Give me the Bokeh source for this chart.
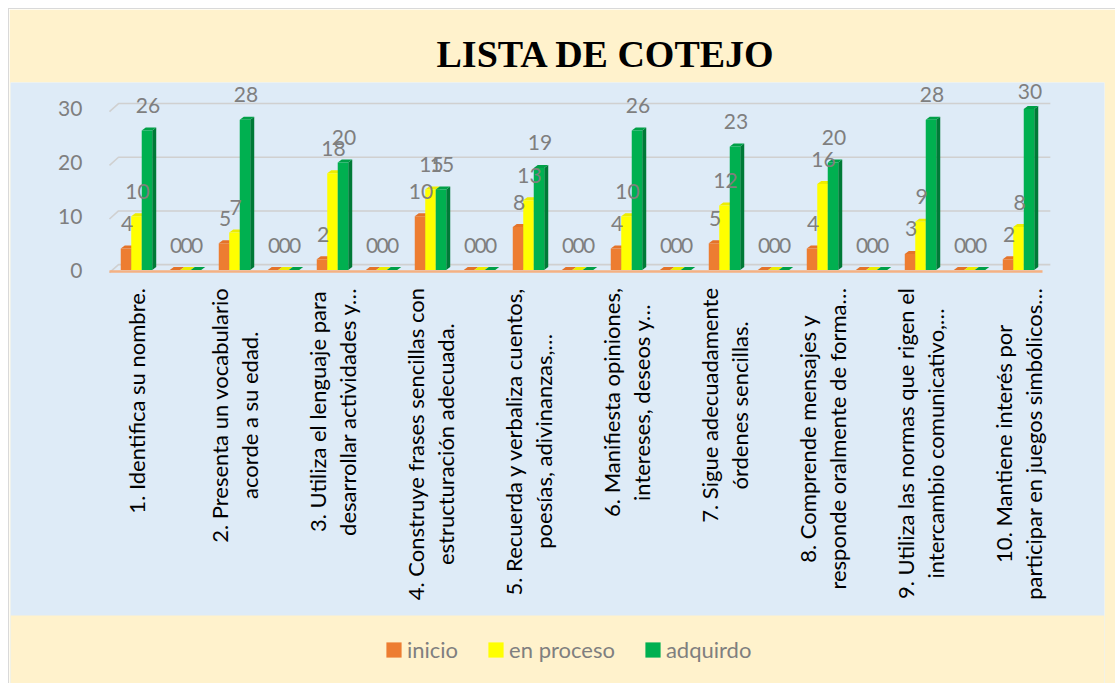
import glob
import subprocess
import numpy as np
from bokeh.plotting import figure
from bokeh.models import (Range1d, LinearAxis, FixedTicker, Legend, LegendItem,
                          ColumnDataSource, BoxAnnotation)
from bokeh.core.properties import value
from bokeh.embed import file_html
from bokeh.resources import INLINE

# ---------------- data ----------------
categories = [
    "1. Identifica su nombre.", "",
    "2. Presenta un vocabulario\nacorde a su edad.", "",
    "3. Utiliza el lenguaje para\ndesarrollar actividades y…", "",
    "4. Construye frases sencillas con\nestructuración adecuada.", "",
    "5. Recuerda y verbaliza cuentos,\npoesías, adivinanzas,…", "",
    "6. Manifiesta opiniones,\nintereses, deseos y…", "",
    "7. Sigue adecuadamente\nórdenes sencillas.", "",
    "8. Comprende mensajes y\nresponde oralmente de forma…", "",
    "9. Utiliza las normas que rigen el\nintercambio comunicativo,…", "",
    "10. Mantiene interés por\nparticipar en juegos simbólicos…",
]
inicio = [4, 0, 5, 0, 2, 0, 10, 0, 8, 0, 4, 0, 5, 0, 4, 0, 3, 0, 2]
en_proceso = [10, 0, 7, 0, 18, 0, 15, 0, 13, 0, 10, 0, 12, 0, 16, 0, 9, 0, 8]
adquirdo = [26, 0, 28, 0, 20, 0, 15, 0, 19, 0, 26, 0, 23, 0, 20, 0, 28, 0, 30]
series_names = ["inicio", "en proceso", "adquirdo"]
y_ticks = [0, 10, 20, 30]
title_text = "LISTA DE COTEJO"

# ---------------- style ----------------
ORANGE_BG = "#FFF2CC"
BLUE_BG = "#DEEBF7"
GRAY_TXT = "#7F7F7F"
FONT = "Lato"
CAT_SIZE = 22
front_cols = ["#ED7D31", "#FFFF00", "#00B050"]
side_cols = ["#B65A1A", "#C8C800", "#007A37"]
top_cols = ["#E4732A", "#EDED00", "#00A047"]

BAR_W = 0.214          # width of one bar in category units
DX, DY = 0.082, 0.56   # 3-D depth offset (x in category units, y in value units)
PX_PER_UNIT = 5.37     # vertical pixels per value unit (for label placement)
Y_TOP, Y_PLOT_BOTTOM, Y_BOTTOM = 34.92, -64.34, -77.0


def _font_path():
    try:
        out = subprocess.run(["fc-match", "-f", "%{file}", FONT + ":style=Regular"],
                             capture_output=True, text=True, timeout=10).stdout.strip()
        if out:
            return out
    except Exception:
        pass
    found = glob.glob("/usr/share/fonts/**/Lato-Regular.ttf", recursive=True)
    return found[0] if found else None


try:
    from PIL import ImageFont
    _fp = _font_path()
    _font = ImageFont.truetype(_fp, CAT_SIZE) if _fp else None
except Exception:
    _font = None


def text_len(s):
    if _font is not None:
        try:
            return float(_font.getlength(s))
        except Exception:
            pass
    return 0.48 * CAT_SIZE * len(s)


p = figure(width=1106, height=674,
           x_range=Range1d(-2.571, 19.755), y_range=Range1d(Y_BOTTOM, Y_TOP),
           output_backend="svg", toolbar_location=None,
           x_axis_location=None, y_axis_location=None,
           min_border_left=1, min_border_right=11,
           min_border_top=73, min_border_bottom=0,
           margin=(9, 0, 0, 9), styles={"outline": "1px solid #D9D9D9"},
           background_fill_color=BLUE_BG, border_fill_color=ORANGE_BG,
           outline_line_color=None, title=title_text)
p.grid.visible = False

# orange strip under the plot area (holds the legend)
p.add_layout(BoxAnnotation(top=Y_PLOT_BOTTOM, fill_color=ORANGE_BG, fill_alpha=1.0,
                           line_color=None, level="underlay"))

p.title.text_font = "Liberation Serif"
p.title.text_font_style = "bold"
p.title.text_font_size = "38px"
p.title.text_color = "#000000"
p.title.align = "left"
p.title.offset = 426
p.title.standoff = 15

n = len(categories)
xs = np.arange(n, dtype=float)

# ---------------- 3-D style gridlines ----------------
x_front = -0.551
x_back = -0.367
x_end = 18.65
grid_xs = [[x_front, x_back, x_end] for _ in y_ticks]
grid_ys = [[t - 0.5, t + 1.0, t + 1.0] for t in y_ticks]
p.multi_line(grid_xs, grid_ys, line_color="#D0D0D0", line_width=1.6)
# floor front edge
p.line([x_front, 18.49], [-0.28, -0.28], line_color="#F4B183", line_width=2.5)

# ---------------- bars ----------------
offsets = [-BAR_W, 0.0, BAR_W]
front_renderers = []
label_sources = []
for vals, off, fc, sc, tc in zip([inicio, en_proceso, adquirdo], offsets,
                                 front_cols, side_cols, top_cols):
    v = np.array(vals, dtype=float)
    xc = xs + off
    xl = xc - BAR_W / 2
    xr = xc + BAR_W / 2
    side_x = [[a, a + DX, a + DX, a] for a in xr]
    side_y = [[0, DY, h + DY, h] for h in v]
    p.patches(side_x, side_y, fill_color=sc, line_color=None)
    top_x = [[a, a + DX, b + DX, b] for a, b in zip(xl, xr)]
    top_y = [[h, h + DY, h + DY, h] for h in v]
    p.patches(top_x, top_y, fill_color=tc, line_color=None)
    r = p.vbar(x=xc, top=v, bottom=0, width=BAR_W, fill_color=fc, line_color=None)
    front_renderers.append(r)
    # keep labels inside the plot area for the tallest bars
    room = (Y_TOP - v) * PX_PER_UNIT - 9
    y_off = [-min(25.0, rm) for rm in room]
    label_sources.append(ColumnDataSource(dict(x=xc, y=v, t=[str(int(a)) for a in v],
                                               yo=y_off)))

# data labels drawn on top of all bars
for lsrc in label_sources:
    p.text(x="x", y="y", text="t", source=lsrc, text_align="center",
           text_baseline="middle", y_offset="yo", x_offset=1,
           text_font=value(FONT), text_font_size="21px", text_color=GRAY_TXT)

# ---------------- category labels (one glyph per line, lines centred) ----------------
lx, ly, lt, lxo, lyo = [], [], [], [], []
for i, c in enumerate(categories):
    if not c:
        continue
    lines = c.split("\n")
    maxw = max(text_len(s) for s in lines)
    k = len(lines)
    for j, s in enumerate(lines):
        lx.append(xs[i])
        ly.append(0.0)
        lt.append(s)
        lxo.append((j - (k - 1) / 2) * 30.0)
        lyo.append(18.0 + maxw / 2)
cat_src = ColumnDataSource(dict(x=lx, y=ly, text=lt, xo=lxo, yo=lyo))
p.text(x="x", y="y", text="text", source=cat_src, angle=np.pi / 2,
       x_offset="xo", y_offset="yo", text_align="center", text_baseline="middle",
       text_font=value(FONT), text_font_size=f"{CAT_SIZE}px", text_color="#000000")

# ---------------- y axis ----------------
yaxis = LinearAxis(fixed_location=x_front, ticker=FixedTicker(ticks=y_ticks),
                   axis_line_color=None, major_tick_line_color=None,
                   minor_tick_line_color=None, major_label_standoff=21,
                   major_label_text_font=FONT, major_label_text_font_size="21px",
                   major_label_text_color=GRAY_TXT)
p.add_layout(yaxis, "left")

# ---------------- legend ----------------
legend = Legend(items=[LegendItem(label=nm, renderers=[r])
                       for nm, r in zip(series_names, front_renderers)],
                orientation="horizontal", location=(374, 20),
                background_fill_alpha=0, border_line_color=None,
                padding=0, margin=0, glyph_width=19, glyph_height=19,
                label_standoff=4, spacing=28, label_height=19,
                label_text_font=FONT, label_text_font_size="22px",
                label_text_color=GRAY_TXT)
p.add_layout(legend)

open("out.html", "w").write(file_html(p, INLINE))
